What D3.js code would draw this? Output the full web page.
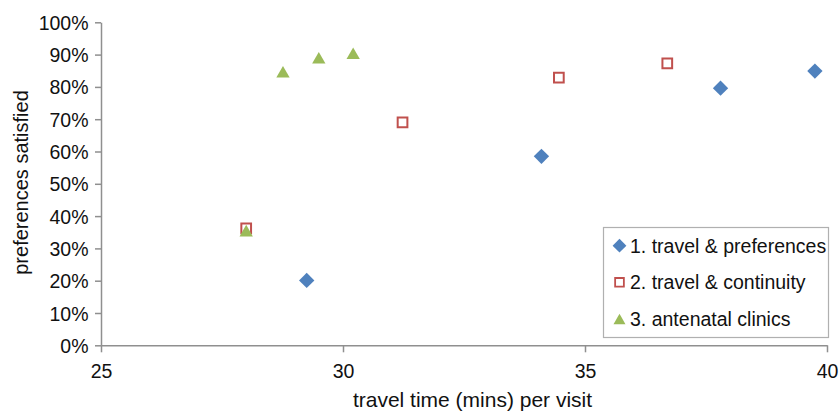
<!DOCTYPE html>
<html>
<head>
<meta charset="utf-8">
<script src="https://cdn.jsdelivr.net/npm/d3@7"></script>
<style>
  html, body { margin: 0; padding: 0; background: #fff; }
  svg { display: block; font-family: "Liberation Sans", Arial, Helvetica, sans-serif; }
</style>
</head>
<body>
<svg id="chart" width="839" height="413"></svg>
<script>
const seriesNames = ["1. travel & preferences", "2. travel & continuity", "3. antenatal clinics"];
const travelPrefX = [29.25, 34.1, 37.8, 39.75];
const travelPrefY = [20.1, 58.5, 79.6, 84.9];
const continuityX = [28.0, 31.23, 34.46, 36.7];
const continuityY = [36.2, 69.0, 82.9, 87.3];
const clinicsX = [28.0, 28.76, 29.5, 30.21];
const clinicsY = [35.5, 84.7, 89.0, 90.4];
const xTicks = [25, 30, 35, 40];
const yTicks = [0, 10, 20, 30, 40, 50, 60, 70, 80, 90, 100];
const colors = ["#4F81BD", "#C0504D", "#9BBB59"];

(function () {
const series = [
  { name: seriesNames[0], xs: travelPrefX, ys: travelPrefY, shape: "diamond", color: colors[0] },
  { name: seriesNames[1], xs: continuityX, ys: continuityY, shape: "square", color: colors[1] },
  { name: seriesNames[2], xs: clinicsX, ys: clinicsY, shape: "triangle", color: colors[2] }
];

const svg = d3.select("#chart");
const mLeft = 101, mRight = 827, mTop = 22.3, mBottom = 345.3;
const x = d3.scaleLinear().domain([25, 40]).range([mLeft, mRight]);
const y = d3.scaleLinear().domain([0, 100]).range([mBottom, mTop]);
const axisColor = "#8f8f8f";

const yAxis = svg.append("g").attr("transform", `translate(${mLeft},0)`)
  .call(d3.axisLeft(y).tickValues(yTicks).tickSize(6).tickSizeOuter(0).tickFormat(d => d + "%"));
const xAxis = svg.append("g").attr("transform", `translate(0,${mBottom})`)
  .call(d3.axisBottom(x).tickValues(xTicks).tickSize(7).tickSizeOuter(0).tickFormat(d3.format("d")));

[yAxis, xAxis].forEach(g => {
  g.select(".domain").attr("stroke", axisColor).attr("stroke-width", 1.5);
  g.selectAll(".tick line").attr("stroke", axisColor).attr("stroke-width", 1.5);
  g.selectAll(".tick text").attr("fill", "#111").style("font-size", "19.5px")
    .style("font-family", "'Liberation Sans', Arial, sans-serif");
});
yAxis.selectAll(".tick text").attr("x", -12.5).attr("dy", "0.36em");
xAxis.selectAll(".tick text").attr("y", 32.7).attr("dy", "0");

svg.append("text")
  .attr("transform", `translate(28,182.5) rotate(-90)`)
  .attr("text-anchor", "middle")
  .style("font-size", "20px").attr("fill", "#111")
  .text("preferences satisfied");
svg.append("text")
  .attr("x", 472.5).attr("y", 407.3)
  .attr("text-anchor", "middle")
  .style("font-size", "21px").attr("fill", "#111")
  .text("travel time (mins) per visit");

const triSize = 127;
const triShift = Math.sqrt(triSize) * 0.6824 / 4; // centre the triangle's box on the point
const symbolFor = shape => {
  if (shape === "diamond") return d3.symbol().type(d3.symbolDiamond2).size(150)();
  if (shape === "square") return d3.symbol().type(d3.symbolSquare2).size(120)();
  return d3.symbol().type(d3.symbolTriangle2).size(triSize)();
};
const shiftFor = shape => shape === "triangle" ? triShift : 0;

function styleMark(sel, s) {
  if (s.shape === "square") {
    sel.attr("fill", "#fff").attr("stroke", s.color).attr("stroke-width", 2);
  } else {
    sel.attr("fill", s.color).attr("stroke", "none");
  }
}

series.forEach(s => {
  const pts = s.xs.map((v, i) => ({ x: v, y: s.ys[i] }));
  const g = svg.append("g");
  g.selectAll("path").data(pts).enter().append("path")
    .attr("d", symbolFor(s.shape))
    .attr("transform", d => `translate(${x(d.x)},${y(d.y) + shiftFor(s.shape)})`)
    .call(sel => styleMark(sel, s));
});

const lg = svg.append("g");
lg.append("rect").attr("x", 603.5).attr("y", 227.5).attr("width", 225).attr("height", 110)
  .attr("fill", "#fff").attr("stroke", "#b0b0b0").attr("stroke-width", 1.2);
series.forEach((s, i) => {
  const cy = 245.7 + i * 36.65;
  lg.append("path").attr("d", symbolFor(s.shape))
    .attr("transform", `translate(619.5,${cy + shiftFor(s.shape) * 0.9}) scale(0.9)`)
    .call(sel => styleMark(sel, s));
  lg.append("text").attr("x", 630).attr("y", cy).attr("dy", "0.36em")
    .style("font-size", "19.5px").attr("fill", "#111").text(s.name);
});
})();
</script>
</body>
</html>
